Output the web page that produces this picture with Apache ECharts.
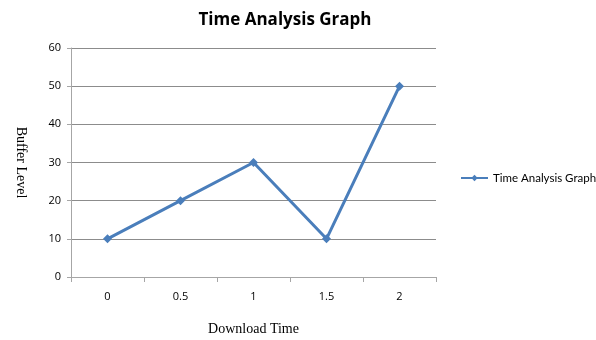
<!DOCTYPE html>
<html>
<head>
<meta charset="utf-8">
<script src="https://cdn.jsdelivr.net/npm/echarts@6/dist/echarts.min.js"></script>
<style>
  html, body { margin: 0; padding: 0; background: #fff; }
  #chart { width: 596px; height: 340px; }
</style>
</head>
<body>
<div id="chart"></div>
<script>
  // download time categories and buffer levels
  var downloadTime = ['0', '0.5', '1', '1.5', '2'];
  var bufferLevel = [10, 20, 30, 10, 50];
  var yTicks = { min: 0, max: 60, interval: 10 };

  var chart = echarts.init(document.getElementById('chart'));
  var option = {
    animation: false,
    title: {
      text: 'Time Analysis Graph',
      left: 280,
      top: 7,
      textAlign: 'center',
      textStyle: {
        fontFamily: 'Open Sans',
        fontSize: 17,
        fontWeight: 'bold',
        color: '#000'
      }
    },
    legend: {
      left: 455,
      top: 167,
      itemWidth: 27,
      itemHeight: 8,
      textStyle: { fontFamily: 'Lato', fontSize: 11.5, color: '#000' },
      data: ['Time Analysis Graph']
    },
    grid: { left: 71, right: 160, top: 48, bottom: 63, outerBoundsMode: 'none', containLabel: false },
    xAxis: {
      type: 'category',
      data: downloadTime,
      boundaryGap: true,
      name: 'Download Time',
      nameLocation: 'middle',
      nameGap: 45,
      nameTextStyle: { fontFamily: 'Liberation Serif', fontSize: 14, color: '#000' },
      axisLine: { lineStyle: { color: '#a6a6a6', width: 1 } },
      axisTick: { show: true, length: 5, lineStyle: { color: '#a6a6a6' } },
      axisLabel: { margin: 14, fontFamily: 'Open Sans', fontSize: 11, color: '#000' }
    },
    yAxis: {
      type: 'value',
      min: yTicks.min,
      max: yTicks.max,
      interval: yTicks.interval,
      name: 'Buffer Level',
      nameLocation: 'middle',
      nameGap: 43,
      nameRotate: -90,
      nameTextStyle: { fontFamily: 'Liberation Serif', fontSize: 14, color: '#000' },
      axisLine: { show: true, lineStyle: { color: '#a6a6a6', width: 1 } },
      axisTick: { show: true, length: 4, lineStyle: { color: '#a6a6a6' } },
      axisLabel: { margin: 10, fontFamily: 'Open Sans', fontSize: 11, color: '#000' },
      splitLine: { lineStyle: { color: '#8c8c8c', width: 1 } }
    },
    series: [
      {
        name: 'Time Analysis Graph',
        type: 'line',
        data: bufferLevel,
        symbol: 'diamond',
        symbolSize: 9,
        lineStyle: { color: '#4a7ebb', width: 3 },
        itemStyle: { color: '#4a7ebb' }
      }
    ]
  };
  chart.setOption(option);
</script>
</body>
</html>
